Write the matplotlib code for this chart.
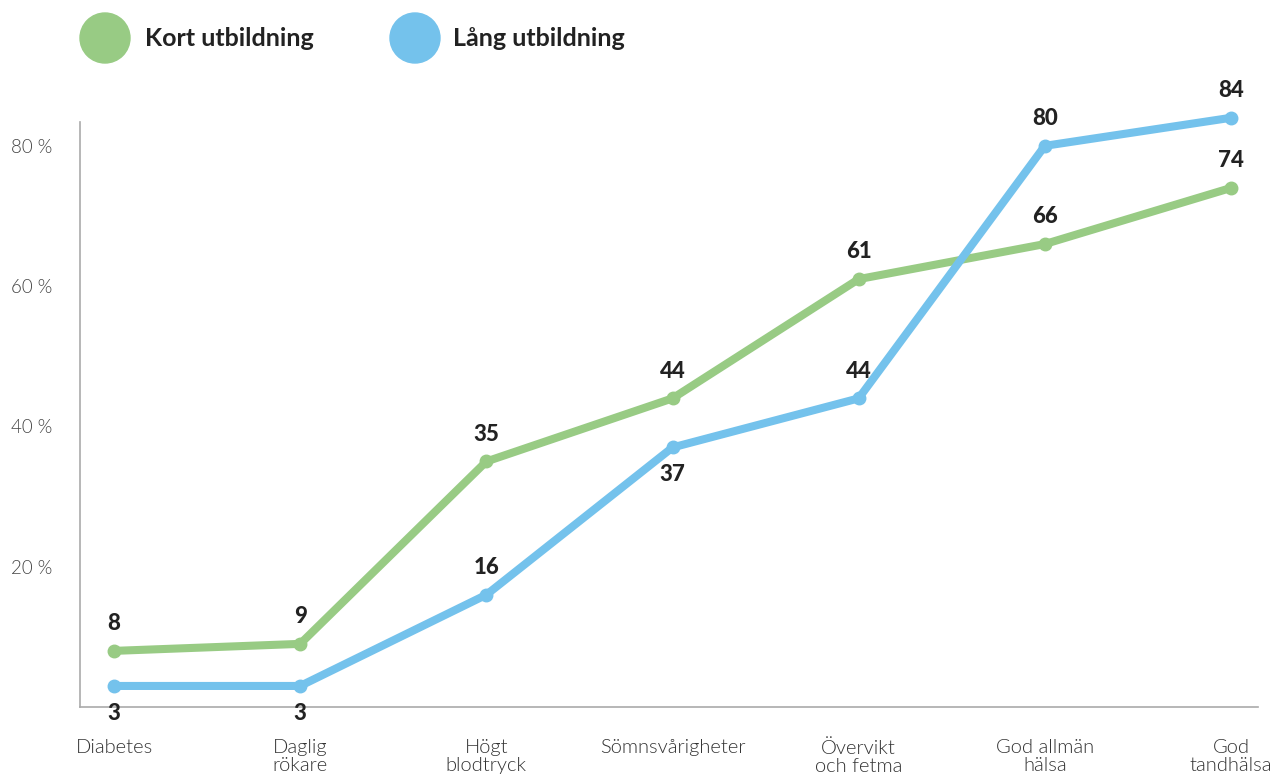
import matplotlib.pyplot as plt
from matplotlib.patches import Ellipse

# --- Данные ---
categories = ["Diabetes", "Daglig\nrökare", "Högt\nblodtryck", "Sömnsvårigheter",
              "Övervikt\noch fetma", "God allmän\nhälsa", "God\ntandhälsa"]
kort = [8, 9, 35, 44, 61, 66, 74]
lang = [3, 3, 16, 37, 44, 80, 84]
# где подпись синей линии: 1 = над точкой, -1 = под точкой
lang_label_side = [-1, -1, 1, -1, 1, 1, 1]

yticks = [20, 40, 60, 80]
ytick_labels = ["20 %", "40 %", "60 %", "80 %"]

GREEN = "#98CB84"
BLUE = "#74C2EC"
TEXT = "#222222"

plt.rcParams['font.family'] = ['Lato', 'DejaVu Sans']

fig = plt.figure(figsize=(12.71, 7.8), dpi=100)
ax = fig.add_axes([80 / 1271, 1 - 707 / 780, (1258 - 80) / 1271, (707 - 122) / 780])

x = list(range(len(categories)))
ax.plot(x, kort, color=GREEN, lw=5.8, marker="o", ms=9, solid_capstyle="round",
        clip_on=False, zorder=3)
ax.plot(x, lang, color=BLUE, lw=5.8, marker="o", ms=9, solid_capstyle="round",
        clip_on=False, zorder=4)

# подписи значений
for xi, v in zip(x, kort):
    ax.annotate(str(v), (xi, v), xytext=(0, 12), textcoords="offset points",
                ha="center", va="bottom", fontsize=16, fontweight="black",
                color=TEXT, annotation_clip=False)
for xi, v, side in zip(x, lang, lang_label_side):
    ax.annotate(str(v), (xi, v), xytext=(0, 12 * side), textcoords="offset points",
                ha="center", va="bottom" if side > 0 else "top",
                fontsize=16, fontweight="black", color=TEXT, annotation_clip=False)

ax.set_xlim(-34 / 186, 6 + 27 / 186)
ax.set_ylim(0, 83.4)
ax.set_yticks(yticks)
ax.set_yticklabels(ytick_labels, fontsize=13.5, fontweight=300, color="#444444")
ax.set_xticks(x)
ax.set_xticklabels(categories, fontsize=14.5, fontweight=300, color="#333333",
                   linespacing=1.1, va="top")
ax.tick_params(axis="both", length=0)
ax.tick_params(axis="x", pad=23)
ax.tick_params(axis="y", pad=20)

for s in ["top", "right"]:
    ax.spines[s].set_visible(False)
for s in ["left", "bottom"]:
    ax.spines[s].set_color("#AAAAAA")
    ax.spines[s].set_linewidth(1.2)

# --- Легенда сверху ---
leg_items = [("Kort utbildning", GREEN, 105, 145), ("Lång utbildning", BLUE, 415, 453)]
for name, col, cx, tx in leg_items:
    fig.patches.append(Ellipse((cx / 1271, 1 - 38 / 780), 50 / 1271, 50 / 780,
                               transform=fig.transFigure, color=col))
    fig.text(tx / 1271, 1 - 38 / 780, name, fontsize=18, fontweight="bold",
             color=TEXT, va="center", ha="left")

plt.savefig("out.png", dpi=100)
